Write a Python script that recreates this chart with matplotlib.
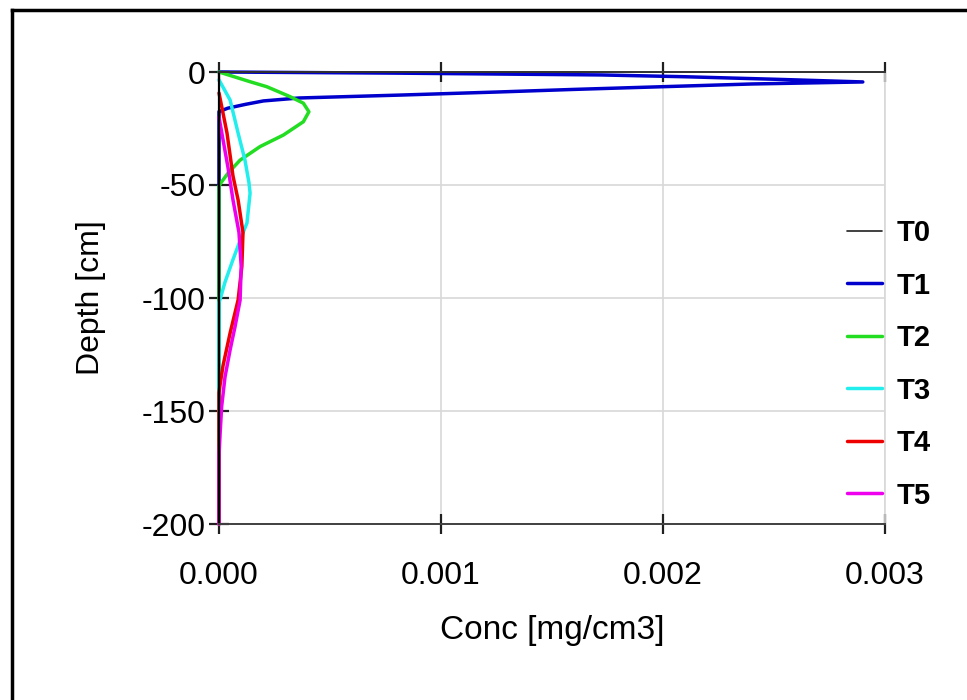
import matplotlib
matplotlib.use("Agg")
import matplotlib.pyplot as plt
from matplotlib.lines import Line2D

plt.rcParams['font.family'] = ['Liberation Sans', 'DejaVu Sans']
plt.rcParams['axes.unicode_minus'] = False

# ---------------------------------------------------------------
# profile data: (conc [mg/cm3], depth [cm])
# ---------------------------------------------------------------
t0_conc = [0.0, 0.0]
t0_depth = [0.0, -200.0]

t1_conc = [0.0, 0.0008, 0.00172, 0.0021, 0.0025, 0.0029, 0.0024, 0.002,
           0.0016, 0.00127, 0.00082, 0.00036, 0.0002, 0.00012, 0.00004,
           0.0, 0.0]
t1_depth = [0.0, -0.5, -1.3, -2.1, -3.2, -4.4, -5.3, -6.5,
            -7.7, -8.8, -10.2, -11.5, -12.8, -14.3, -16.0,
            -17.5, -200.0]

t2_conc = [0.0, 0.00014, 0.000215, 0.00032, 0.00038, 0.000405, 0.00038,
           0.00029, 0.000185, 0.000095, 0.000041, 0.000009, 0.0, 0.0]
t2_depth = [0.0, -4.3, -6.5, -10.9, -13.8, -17.6, -22.0,
            -27.9, -33.0, -39.0, -44.7, -49.0, -50.5, -200.0]

t3_conc = [0.0, 0.00005, 0.000086, 0.000117, 0.000135, 0.00014, 0.000126,
           0.000108, 0.000063, 0.000027, 0.000008, 0.0, 0.0]
t3_depth = [-3.5, -12.4, -27.0, -39.0, -49.0, -53.6, -66.8,
            -71.2, -83.0, -93.0, -99.6, -102.0, -200.0]

t4_conc = [0.0, 0.000036, 0.000063, 0.000086, 0.000108, 0.000103, 0.000086,
           0.00005, 0.000018, 0.000004, 0.0, 0.0]
t4_depth = [-9.3, -27.0, -46.0, -56.6, -71.0, -86.0, -100.9,
            -115.5, -130.0, -139.0, -142.0, -200.0]

t5_conc = [0.0, 0.00004, 0.000063, 0.00009, 0.0001, 0.000095, 0.000072,
           0.00005, 0.000027, 0.000012, 0.000005, 0.0, 0.0]
t5_depth = [-20.0, -42.0, -56.6, -71.0, -86.0, -101.0, -112.8,
            -123.0, -135.0, -148.0, -160.0, -170.0, -200.0]

labels = ['T0', 'T1', 'T2', 'T3', 'T4', 'T5']
colors = ['#202020', '#0000cc', '#22dd22', '#22eeee', '#ee0000', '#ee00ee']
widths = [1.2, 2.5, 2.5, 2.5, 2.5, 2.5]

x_ticks = [0.0, 0.001, 0.002, 0.003]
x_ticklabels = ['0.000', '0.001', '0.002', '0.003']
y_ticks = [0, -50, -100, -150, -200]

# ---------------------------------------------------------------
fig = plt.figure(figsize=(9.67, 7.0), dpi=100)
ax = fig.add_axes([219 / 967, 1 - 524 / 700, (885 - 219) / 967, (524 - 72) / 700])

series = [(t0_conc, t0_depth), (t1_conc, t1_depth), (t2_conc, t2_depth),
          (t3_conc, t3_depth), (t4_conc, t4_depth), (t5_conc, t5_depth)]
for (c, d), lab, col, lw in zip(series, labels, colors, widths):
    ax.plot(c, d, color=col, lw=lw, label=lab, solid_capstyle='round',
            solid_joinstyle='round', clip_on=False)

ax.set_xlim(0, 0.003)
ax.set_ylim(-200, 0)
ax.set_xticks(x_ticks)
ax.set_xticklabels(x_ticklabels)
ax.set_yticks(y_ticks)
ax.grid(True, color='#d8d8d8', lw=1.2)
ax.set_axisbelow(True)

ax.tick_params(direction='inout', length=15, width=1.6, color='#202020',
               labelsize=23, top=True, right=False)
ax.tick_params(axis='x', pad=19)
ax.tick_params(axis='y', pad=2)
ax.spines['left'].set_color('black')
ax.spines['left'].set_linewidth(1.6)
ax.spines['bottom'].set_color('#404040')
ax.spines['bottom'].set_linewidth(1.4)
ax.spines['top'].set_color('#303030')
ax.spines['top'].set_linewidth(1.4)
ax.spines['right'].set_color('#d8d8d8')
ax.spines['right'].set_linewidth(1.2)

ax.set_xlabel('Conc [mg/cm3]', fontsize=24, va='center')
ax.xaxis.set_label_coords(0.5, -0.235)
ax.set_ylabel('Depth [cm]', fontsize=23, va='center')
ax.yaxis.set_label_coords(-0.192, 0.5)

leg = ax.legend(loc='center left', bbox_to_anchor=(0.943, 0.353), frameon=False,
                fontsize=21, handlelength=1.2, handletextpad=0.5,
                labelspacing=0.84, borderaxespad=0, borderpad=0)
for t in leg.get_texts():
    t.set_fontweight('bold')

# outer frame of the original figure (cut at right and bottom)
fig.add_artist(Line2D([12 / 967, 12 / 967], [0, 1 - 10 / 700], color='black',
                      lw=2.5, transform=fig.transFigure))
fig.add_artist(Line2D([12 / 967, 1], [1 - 10 / 700, 1 - 10 / 700], color='black',
                      lw=2.5, transform=fig.transFigure))

fig.savefig('out.png', dpi=100)
